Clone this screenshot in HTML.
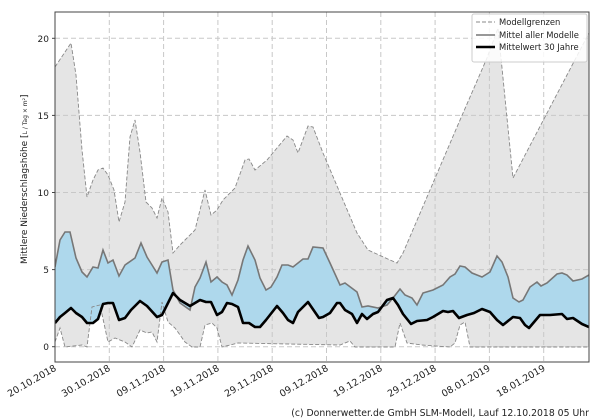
<!DOCTYPE html>
<html><head><meta charset="utf-8"><style>body{margin:0;background:#fff}svg{display:block}text{font-family:"DejaVu Sans","Liberation Sans",sans-serif;fill:#222}</style></head>
<body>
<svg width="600" height="420" viewBox="0 0 600 420" xmlns="http://www.w3.org/2000/svg">
<defs><clipPath id="c"><rect x="55" y="12" width="534" height="350"/></clipPath></defs>
<g clip-path="url(#c)">
<polygon fill="#e5e5e5" points="55,67 71,43 76,75 82,150 87,197 93,180 98,170 103,168 108,175 114,190 119,222 125,202 130,137 135,120 140,152 146,202 152,208 157,218 162,198 168,212 173,253 180,245 195,230 205,190 211,215 217,210 223,200 235,188 245,160 249,159 255,170 267,160 277,148 287,136 293,140 298,153 308,126 313,127 323,153 340,193 357,233 368,250 390,260 397,263 403,253 430,190 457,127 487,58 498,28 513,178 589,33 589,347 470,347 465,322 460,325 455,343 450,347 422,345 407,343 400,323 395,347 355,347 350,341 340,345 238,343 222,347 217,328 212,323 205,325 200,347 192,347 185,342 175,328 168,322 162,302 157,342 152,332 147,333 140,330 132,347 125,342 115,338 108,342 100,305 92,307 87,347 82,345 65,347 60,328 55,342"/>
<g stroke="#c8c8c8" stroke-width="1" stroke-dasharray="5,3" fill="none">
<line x1="55" x2="589" y1="346.7" y2="346.7"/><line x1="55" x2="589" y1="269.6" y2="269.6"/><line x1="55" x2="589" y1="192.5" y2="192.5"/><line x1="55" x2="589" y1="115.4" y2="115.4"/><line x1="55" x2="589" y1="38.3" y2="38.3"/>
<line x1="109.3" x2="109.3" y1="12" y2="362"/><line x1="163.6" x2="163.6" y1="12" y2="362"/><line x1="217.9" x2="217.9" y1="12" y2="362"/><line x1="272.2" x2="272.2" y1="12" y2="362"/><line x1="326.5" x2="326.5" y1="12" y2="362"/><line x1="380.8" x2="380.8" y1="12" y2="362"/><line x1="435.1" x2="435.1" y1="12" y2="362"/><line x1="489.4" x2="489.4" y1="12" y2="362"/><line x1="543.7" x2="543.7" y1="12" y2="362"/>
</g>
<polygon fill="#aed8ec" points="55,267 60,240 65,232 70,232 76,258 82,272 87,277 93,267 98,268 103,250 108,263 113,260 119,276 125,265 135,258 141,243 147,257 152,265 157,273 162,262 168,260 173,290 180,303 190,310 195,287 200,278 206,262 211,282 217,277 222,282 227,285 232,295 238,280 243,260 248,246 255,260 260,278 266,290 271,287 277,277 282,265 288,265 293,267 303,259 308,259 313,247 323,248 330,263 340,285 345,283 357,292 362,307 368,306 378,308 387,305 393,298 400,289 405,295 412,298 417,305 423,293 433,290 443,285 450,277 455,274 460,266 465,267 472,273 482,277 490,272 497,256 502,262 508,277 513,298 519,302 523,300 530,287 537,282 541,286 547,283 557,274 562,273 567,275 573,281 582,279 589,275 589,327 582,324 573,318 567,319 562,314 550,315 540,315 529,328 525,325 520,318 513,317 503,325 497,320 490,312 482,309 474,313 467,315 459,318 453,311 448,312 443,311 433,317 427,320 417,321 411,324 403,314 398,305 393,298 387,300 378,312 373,314 367,319 362,314 357,323 352,314 345,310 340,303 337,303 330,313 323,317 319,318 308,302 298,312 293,323 288,320 283,313 277,306 266,320 260,327 255,327 249,323 243,323 238,307 232,304 227,303 222,312 217,315 211,302 206,302 200,300 190,306 180,300 173,293 168,303 162,315 157,317 147,306 140,301 131,310 125,318 119,320 113,303 108,303 103,304 98,319 93,323 87,323 82,317 76,313 71,308 65,313 60,317 55,323"/>
<g fill="none" stroke="#888" stroke-width="0.9" stroke-dasharray="4,2">
<polyline points="55,67 71,43 76,75 82,150 87,197 93,180 98,170 103,168 108,175 114,190 119,222 125,202 130,137 135,120 140,152 146,202 152,208 157,218 162,198 168,212 173,253 180,245 195,230 205,190 211,215 217,210 223,200 235,188 245,160 249,159 255,170 267,160 277,148 287,136 293,140 298,153 308,126 313,127 323,153 340,193 357,233 368,250 390,260 397,263 403,253 430,190 457,127 487,58 498,28 513,178 589,33"/>
<polyline points="55,342 60,328 65,347 82,345 87,347 92,307 100,305 108,342 115,338 125,342 132,347 140,330 147,333 152,332 157,342 162,302 168,322 175,328 185,342 192,347 200,347 205,325 212,323 217,328 222,347 238,343 340,345 350,341 355,347 395,347 400,323 407,343 422,345 450,347 455,343 460,325 465,322 470,347 589,347"/>
</g>
<polyline fill="none" stroke="#777" stroke-width="1.6" points="55,267 60,240 65,232 70,232 76,258 82,272 87,277 93,267 98,268 103,250 108,263 113,260 119,276 125,265 135,258 141,243 147,257 152,265 157,273 162,262 168,260 173,290 180,303 190,310 195,287 200,278 206,262 211,282 217,277 222,282 227,285 232,295 238,280 243,260 248,246 255,260 260,278 266,290 271,287 277,277 282,265 288,265 293,267 303,259 308,259 313,247 323,248 330,263 340,285 345,283 357,292 362,307 368,306 378,308 387,305 393,298 400,289 405,295 412,298 417,305 423,293 433,290 443,285 450,277 455,274 460,266 465,267 472,273 482,277 490,272 497,256 502,262 508,277 513,298 519,302 523,300 530,287 537,282 541,286 547,283 557,274 562,273 567,275 573,281 582,279 589,275"/>
<polyline fill="none" stroke="#000" stroke-width="2.6" stroke-linejoin="round" points="55,323 60,317 65,313 71,308 76,313 82,317 87,323 93,323 98,319 103,304 108,303 113,303 119,320 125,318 131,310 140,301 147,306 157,317 162,315 168,303 173,293 180,300 190,306 200,300 206,302 211,302 217,315 222,312 227,303 232,304 238,307 243,323 249,323 255,327 260,327 266,320 277,306 283,313 288,320 293,323 298,312 308,302 319,318 323,317 330,313 337,303 340,303 345,310 352,314 357,323 362,314 367,319 373,314 378,312 387,300 393,298 398,305 403,314 411,324 417,321 427,320 433,317 443,311 448,312 453,311 459,318 467,315 474,313 482,309 490,312 497,320 503,325 513,317 520,318 525,325 529,328 540,315 550,315 562,314 567,319 573,318 582,324 589,327"/>
</g>
<rect x="55" y="12" width="534" height="350" fill="none" stroke="#444" stroke-width="1"/>
<g font-size="9" text-anchor="end">
<text x="49" y="350">0</text><text x="49" y="273">5</text><text x="49" y="196">10</text><text x="49" y="119">15</text><text x="49" y="42">20</text>
</g>
<g stroke="#444"><line x1="52" x2="55" y1="346.7" y2="346.7"/><line x1="52" x2="55" y1="269.6" y2="269.6"/><line x1="52" x2="55" y1="192.5" y2="192.5"/><line x1="52" x2="55" y1="115.4" y2="115.4"/><line x1="52" x2="55" y1="38.3" y2="38.3"/></g>
<g font-size="9.5" text-anchor="end">
<text transform="translate(57,370) rotate(-30)">20.10.2018</text>
<text transform="translate(111,370) rotate(-30)">30.10.2018</text>
<text transform="translate(166,370) rotate(-30)">09.11.2018</text>
<text transform="translate(220,370) rotate(-30)">19.11.2018</text>
<text transform="translate(274,370) rotate(-30)">29.11.2018</text>
<text transform="translate(329,370) rotate(-30)">09.12.2018</text>
<text transform="translate(383,370) rotate(-30)">19.12.2018</text>
<text transform="translate(437,370) rotate(-30)">29.12.2018</text>
<text transform="translate(491,370) rotate(-30)">08.01.2019</text>
<text transform="translate(546,370) rotate(-30)">18.01.2019</text>
</g>
<text transform="translate(27,264) rotate(-90)" font-size="9">Mittlere Niederschlagshöhe [<tspan font-size="6">L / Tag × m²</tspan>]</text>
<text x="589" y="416" font-size="9.3" text-anchor="end">(c) Donnerwetter.de GmbH SLM-Modell, Lauf 12.10.2018 05 Uhr</text>
<rect x="472" y="14" width="115" height="48" rx="2" fill="#fff" fill-opacity="0.85" stroke="#ccc"/>
<line x1="476" x2="495" y1="22" y2="22" stroke="#888" stroke-dasharray="4,2"/>
<line x1="476" x2="495" y1="35" y2="35" stroke="#777" stroke-width="1.6"/>
<line x1="476" x2="495" y1="47" y2="47" stroke="#000" stroke-width="2.6"/>
<g font-size="8.4"><text x="499" y="25">Modellgrenzen</text><text x="499" y="38">Mittel aller Modelle</text><text x="499" y="50">Mittelwert 30 Jahre</text></g>
</svg>
</body></html>
